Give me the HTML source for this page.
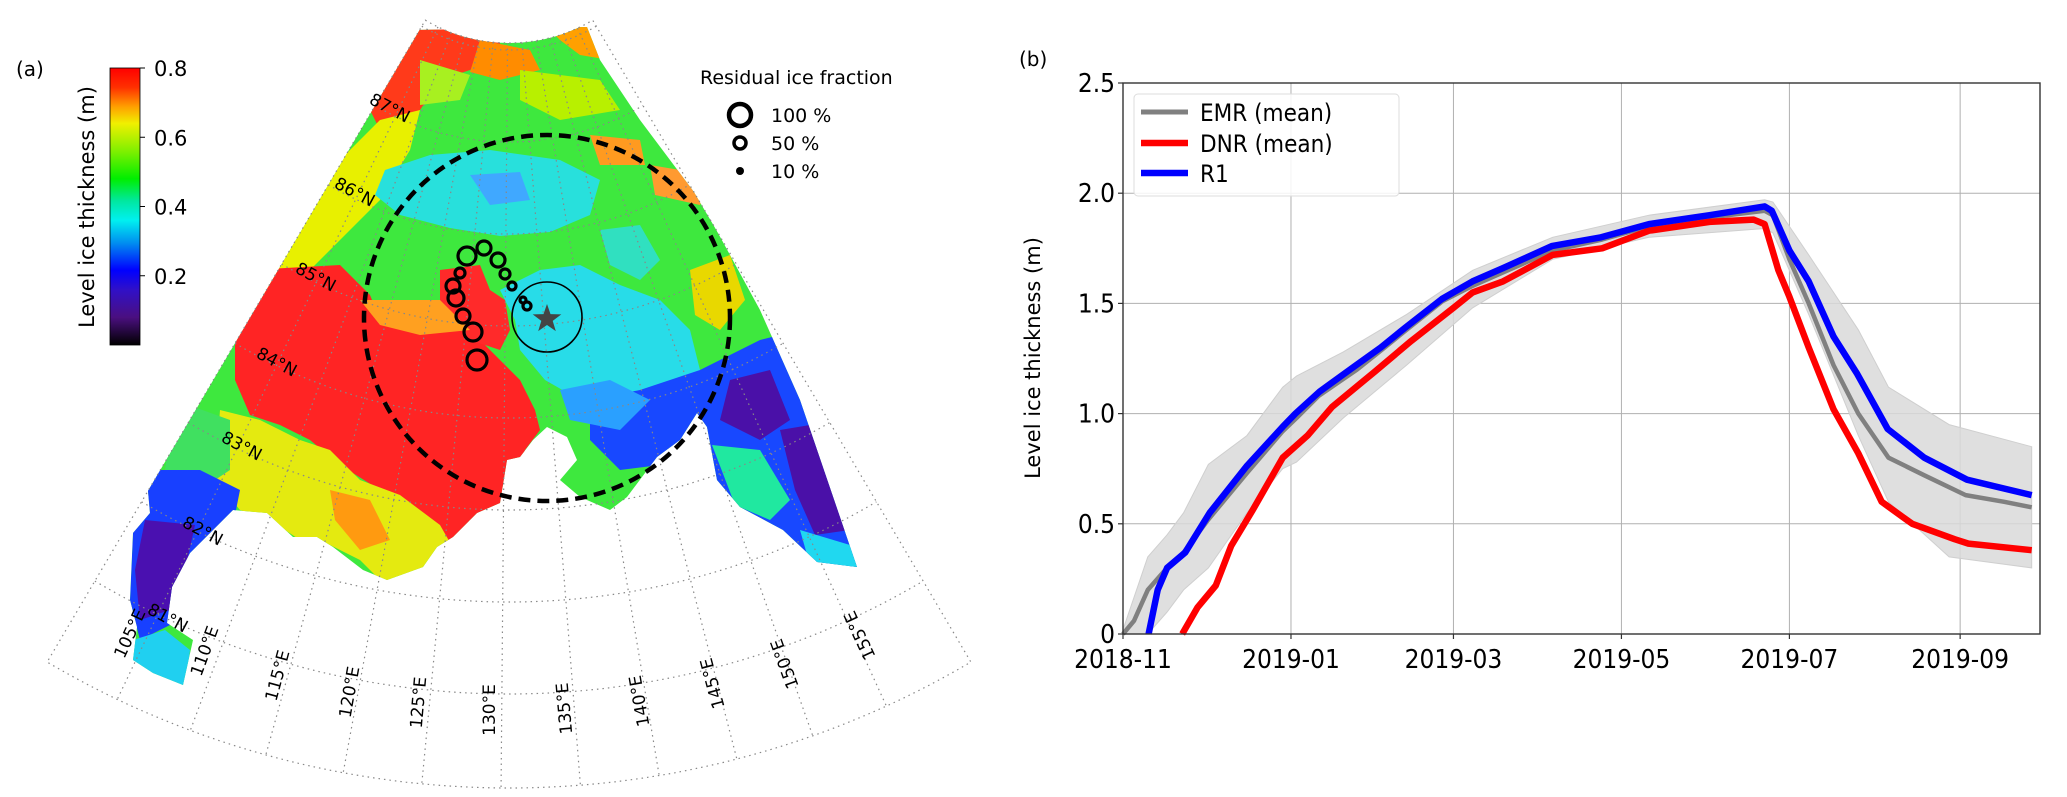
<!DOCTYPE html>
<html><head><meta charset="utf-8">
<style>
html,body{margin:0;padding:0;background:#fff;}
body{width:2067px;height:797px;overflow:hidden;font-family:"DejaVu Sans","Liberation Sans",sans-serif;}
svg{position:absolute;left:0;top:0;}
.cond{font-family:"DejaVu Sans Condensed","DejaVu Sans","Liberation Sans",sans-serif;font-stretch:condensed;}
</style></head>
<body>
<svg id="fig" width="2067" height="797" viewBox="0 0 2067 797" xmlns="http://www.w3.org/2000/svg">
<defs>
  <linearGradient id="cbar" x1="0" y1="1" x2="0" y2="0">
    <stop offset="0" stop-color="#000000"/>
    <stop offset="0.1" stop-color="#4a0f80"/>
    <stop offset="0.2" stop-color="#3010c8"/>
    <stop offset="0.27" stop-color="#0000ff"/>
    <stop offset="0.37" stop-color="#0090f0"/>
    <stop offset="0.45" stop-color="#00f0f0"/>
    <stop offset="0.52" stop-color="#00e8a0"/>
    <stop offset="0.6" stop-color="#00ee00"/>
    <stop offset="0.7" stop-color="#80f000"/>
    <stop offset="0.8" stop-color="#f0f000"/>
    <stop offset="0.86" stop-color="#ffa000"/>
    <stop offset="0.93" stop-color="#ff3000"/>
    <stop offset="1" stop-color="#ff0000"/>
  </linearGradient>
  <clipPath id="fanClip"><path id="fanClipPath" d=""/></clipPath>
  <clipPath id="dataClip"><polygon points="413,30 587,27 600,60 640,120 700,200 760,310 800,400 857,567 817,562 783,530 740,507 717,480 707,427 697,413 680,440 657,457 627,497 610,510 580,497 560,480 577,460 567,437 547,427 533,440 520,457 507,460 500,503 477,513 453,537 437,547 423,567 387,580 363,570 333,547 317,537 293,537 267,513 233,510 210,533 190,553 172,587 167,623 193,640 183,685 153,673 133,660 137,627 130,600 133,533 150,513 147,480 170,423 190,393 300,200"/></clipPath>
</defs>

<!-- ===== Panel (a) ===== -->
<text x="16" y="76" font-size="20" fill="#000">(a)</text>
<g>
  <rect x="110" y="68" width="30" height="277" fill="url(#cbar)" stroke="#000" stroke-width="0.8"/>
  <g id="cbticks"></g>
  <text transform="translate(94,207) rotate(-90)" text-anchor="middle" font-size="21" fill="#000">Level ice thickness (m)</text>
</g>

<g id="map">
  <g clip-path="url(#fanClip)">
    <g clip-path="url(#dataClip)">
      <rect x="100" y="0" width="900" height="720" fill="#3ee83e"/>
      <polygon points="400,20 500,20 500,50 470,70 440,80 420,110 380,130 360,90" fill="#ff3a1a"/>
      <polygon points="480,40 530,50 540,70 500,80 470,72" fill="#ff8c00"/>
      <polygon points="540,20 610,20 610,60 580,55 560,40" fill="#ffa000"/>
      <polygon points="520,70 600,80 620,110 560,120 520,100" fill="#b8f000"/>
      <polygon points="420,60 470,75 460,100 420,105" fill="#a8f020"/>
      <polygon points="380,120 420,110 410,150 380,200 340,240 300,280 270,300 250,280 300,200" fill="#e8f000"/>
      <!-- cyan areas -->
      <polygon points="385,170 430,155 490,150 560,160 600,180 590,215 550,232 500,236 450,228 400,215 375,195" fill="#28e0dc"/>
      <polygon points="500,290 540,270 580,265 620,285 660,300 690,330 700,370 670,400 620,410 580,400 545,380 520,350 515,320" fill="#28dce8"/>
      <polygon points="600,230 640,225 660,260 640,280 610,265" fill="#30e0c0"/>
      <polygon points="470,175 520,172 530,200 490,205" fill="#40a8ff"/>
      <polygon points="590,135 640,140 645,165 600,165" fill="#ff9a20"/>
      <polygon points="650,165 710,175 700,205 655,195" fill="#ff9a30"/>
      <polygon points="690,270 730,255 745,300 720,330 695,315" fill="#e8d800"/>
      <!-- red big region -->
      <polygon points="250,270 340,265 370,295 380,320 430,330 460,322 480,340 500,360 520,380 535,410 540,430 525,450 515,480 500,510 470,520 450,545 420,520 380,490 340,465 310,440 280,425 250,415 235,380 235,330" fill="#ff2424"/>
      <polygon points="440,270 480,265 490,290 505,300 510,330 500,350 470,340 450,320 440,300" fill="#ff2a2a"/>
      <polygon points="360,300 440,300 470,330 420,335 380,325" fill="#ffa020"/>
      <!-- yellow lower left -->
      <polygon points="220,410 260,420 300,440 330,450 360,480 400,495 440,525 460,560 420,590 385,585 360,560 330,545 300,540 270,520 240,510 215,480" fill="#e4ea10"/>
      <polygon points="330,490 370,500 390,540 360,550 335,520" fill="#ff9a10"/>
      <polygon points="175,400 230,420 230,470 200,490 165,470" fill="#40e060"/>
      <!-- blue left tail -->
      <polygon points="150,470 200,470 240,490 235,515 210,535 190,555 175,590 170,625 140,640 130,600 133,533 147,480" fill="#1840ff"/>
      <polygon points="145,520 195,525 185,570 170,610 140,620 135,570" fill="#4a10b0"/>
      <polygon points="133,640 165,630 190,650 185,690 150,680 133,665" fill="#20d0f0"/>
      <!-- blue right -->
      <polygon points="590,400 640,390 700,370 760,340 800,330 830,370 870,470 900,580 810,575 770,530 730,505 700,470 660,465 620,470 590,440" fill="#1848ff"/>
      <polygon points="560,390 610,380 650,400 620,430 570,420" fill="#2aa0ff"/>
      <polygon points="730,380 770,370 790,420 760,440 720,420" fill="#4a10a8"/>
      <polygon points="780,430 810,425 835,470 850,530 815,535 795,490" fill="#4a10a8"/>
      <polygon points="712,445 760,450 790,500 770,520 735,505" fill="#20e8a0"/>
      <polygon points="800,530 850,545 857,567 810,565" fill="#20d8f0"/>
    </g>
    <g id="grid" fill="none" stroke="#888" stroke-width="1.2" stroke-dasharray="1.5,4"></g>
  </g>
  <path id="fanOutline" d="" fill="none" stroke="#888" stroke-width="1.2" stroke-dasharray="1.5,4"/>
  <g id="latlabels" font-size="17" fill="#000"></g>
  <g id="lonlabels" font-size="17" fill="#000"></g>
  <circle cx="547" cy="318" r="183" fill="none" stroke="#000" stroke-width="4.5" stroke-dasharray="12,7"/>
  <circle cx="547" cy="317" r="35" fill="none" stroke="#000" stroke-width="1.6"/>
  <g id="track" fill="none" stroke="#000" stroke-width="3.2"></g>
  <polygon id="star" fill="#444"/>
</g>

<g>
  <text x="700" y="84" font-size="19" fill="#000">Residual ice fraction</text>
  <circle cx="740" cy="115" r="11" fill="none" stroke="#000" stroke-width="4.5"/>
  <text x="771" y="122" font-size="19">100 %</text>
  <circle cx="740" cy="143" r="6" fill="none" stroke="#000" stroke-width="3.5"/>
  <text x="771" y="150" font-size="19">50 %</text>
  <circle cx="740" cy="171" r="4" fill="#000"/>
  <text x="771" y="178" font-size="19">10 %</text>
</g>

<!-- ===== Panel (b) ===== -->
<text x="1019" y="66" font-size="20" fill="#000">(b)</text>
<g id="chart">
  <g id="gridlines"></g>
  <path id="band" fill="#d9d9d9" fill-opacity="0.85" stroke="#cfcfcf" stroke-width="1"/>
  <g id="lines" fill="none" stroke-linejoin="round" stroke-linecap="butt"></g>
  <rect x="1123" y="83" width="917" height="551" fill="none" stroke="#333" stroke-width="1.4"/>
  <g id="ticks" class="cond"></g>
  <text transform="translate(1040,358) rotate(-90)" text-anchor="middle" font-size="21" fill="#000">Level ice thickness (m)</text>
  <g class="cond">
    <rect x="1134" y="94" width="265" height="102" rx="4" fill="#fff" fill-opacity="0.85" stroke="#ddd" stroke-width="1"/>
    <line x1="1141" y1="112" x2="1188" y2="112" stroke="#808080" stroke-width="5"/>
    <text x="1200" y="121" font-size="24">EMR (mean)</text>
    <line x1="1141" y1="143" x2="1188" y2="143" stroke="#ff0000" stroke-width="6.5"/>
    <text x="1200" y="152" font-size="24">DNR (mean)</text>
    <line x1="1141" y1="173" x2="1188" y2="173" stroke="#0000ff" stroke-width="6.5"/>
    <text x="1200" y="182" font-size="24">R1</text>
  </g>
</g>
</svg>
<script>
// ---- chart data (days since 2018-11-01, thickness in m) ----
const emrDays = [0,4,9,16,22,31,45,58,63,71,85,94,103,116,127,138,156,174,191,213,233,236,242,249,258,267,278,291,306,320,330];
const emrVals = [0,0.06,0.2,0.3,0.37,0.52,0.73,0.92,0.98,1.08,1.2,1.29,1.38,1.51,1.58,1.64,1.74,1.79,1.85,1.89,1.92,1.9,1.7,1.5,1.22,1.0,0.8,0.72,0.63,0.6,0.575];
const dnrDays = [21.5,27,33.7,39.3,47,58,67,75.9,91.4,104.7,120,127,138,156,174,191,213,229,233,238,242,249,258,267,275.5,286.6,302,307,330];
const dnrVals = [0,0.12,0.22,0.4,0.56,0.8,0.9,1.03,1.19,1.33,1.48,1.55,1.6,1.72,1.75,1.83,1.87,1.88,1.86,1.65,1.53,1.3,1.02,0.82,0.6,0.5,0.43,0.41,0.38];
const r1Days = [9.3,12.6,16,22.6,31.5,44.8,58,62.6,71.4,84.7,93.6,102.5,115.8,126.9,138,155.7,173.6,191,213,233,235.6,242,249,258,266.6,277.7,291,306.5,319.9,330];
const r1Vals = [0,0.2,0.3,0.37,0.55,0.76,0.94,1.0,1.1,1.22,1.3,1.39,1.52,1.6,1.66,1.76,1.8,1.86,1.9,1.94,1.92,1.74,1.6,1.35,1.18,0.93,0.8,0.7,0.66,0.63];
const bandDays = [0,9,16,22,31,45,58,63,80,103,127,156,191,233,236,249,267,278,300,330];
const bandUpper = [0.02,0.35,0.45,0.55,0.77,0.9,1.12,1.17,1.28,1.45,1.65,1.8,1.9,1.97,1.96,1.72,1.38,1.12,0.95,0.85];
const bandLower = [0,0,0.1,0.2,0.3,0.55,0.75,0.78,0.98,1.22,1.48,1.7,1.8,1.84,1.82,1.45,0.9,0.6,0.35,0.3];
const xTickDays = [0,61,120,181,242,304];
const xTickLabels = ["2018-11","2019-01","2019-03","2019-05","2019-07","2019-09"];
const yTickVals = [0,0.5,1.0,1.5,2.0,2.5];
const yTickLabels = ["0","0.5","1.0","1.5","2.0","2.5"];
const cbTickVals = [0.2,0.4,0.6,0.8];
const cbTickLabels = ["0.2","0.4","0.6","0.8"];
const trackX = [527,523,512,505,498,484,467,460,453,456,463,473,477];
const trackY = [306,300,286,274,260,248,256,273,286,298,316,332,360];
const trackR = [4,3,4,5,7,7,9,5,7,8,7,9,10];

const NS='http://www.w3.org/2000/svg';
const X0=1123,X1=2040,Y0=634,Y1=83,DMAX=333,VMAX=2.5;
function xs(d){return X0+d/DMAX*(X1-X0);}
function ys(v){return Y0-v/VMAX*(Y0-Y1);}
function mk(tag,attrs,parent){const e=document.createElementNS(NS,tag);for(const k in attrs)e.setAttribute(k,attrs[k]);parent.appendChild(e);return e;}

const gl=document.getElementById('gridlines');
xTickDays.forEach((d,i)=>{
  const l=mk('line',{x1:xs(d),x2:xs(d),y1:Y1,y2:Y0,stroke:'#b0b0b0','stroke-width':1},gl);
  
  
});
yTickVals.forEach((v,i)=>{
  const l=mk('line',{x1:X0,x2:X1,y1:ys(v),y2:ys(v),stroke:'#b0b0b0','stroke-width':1},gl);
  
  
});
const tk=document.getElementById('ticks');
xTickDays.forEach((d,i)=>{
  const t=mk('text',{x:xs(d),y:Y0+34,'text-anchor':'middle','font-size':26,fill:'#000'},tk);
  t.textContent=xTickLabels[i];
  
  
  mk('line',{x1:xs(d),x2:xs(d),y1:Y0,y2:Y0+5,stroke:'#333','stroke-width':1.2},tk);
});
yTickVals.forEach((v,i)=>{
  const t=mk('text',{x:X0-8,y:ys(v)+9,'text-anchor':'end','font-size':26,fill:'#000'},tk);
  t.textContent=yTickLabels[i];
  
  
  mk('line',{x1:X0-5,x2:X0,y1:ys(v),y2:ys(v),stroke:'#333','stroke-width':1.2},tk);
});
let bd='M'+bandDays.map((d,i)=>xs(d).toFixed(1)+','+ys(bandUpper[i]).toFixed(1)).join(' L');
for(let i=bandDays.length-1;i>=0;i--) bd+=' L'+xs(bandDays[i]).toFixed(1)+','+ys(bandLower[i]).toFixed(1);
document.getElementById('band').setAttribute('d',bd+' Z');
const lg=document.getElementById('lines');
function line(days,vals,color,w,name){
  const p=mk('path',{d:'M'+days.map((d,i)=>xs(d).toFixed(1)+','+ys(vals[i]).toFixed(1)).join(' L'),stroke:color,'stroke-width':w},lg);
  
  
}
line(emrDays,emrVals,'#808080',4.5,'emr-mean-line');
line(dnrDays,dnrVals,'#ff0000',6.5,'dnr-mean-line');
line(r1Days,r1Vals,'#0000ff',6.5,'r1-line');

const cbt=document.getElementById('cbticks');
cbTickVals.forEach((v,i)=>{
  const y=345-v/0.8*277;
  mk('line',{x1:140,x2:145,y1:y,y2:y,stroke:'#000','stroke-width':1},cbt);
  const t=mk('text',{x:154,y:y+8,'font-size':21,fill:'#000'},cbt);
  t.textContent=cbTickLabels[i];
  
  
});

const PX=509,PY=-122;
function rOf(lat){return 92*(90-lat)-12;}
function pt(r,lon){const a=(lon-130.5)*Math.PI/180;return [PX+r*Math.sin(a),PY+r*Math.cos(a)];}
const LON0=100,LON1=161,RT=165,RB=910;
function arc(r,l0,l1){let s='';for(let l=l0;l<=l1+1e-6;l+=1){const p=pt(r,l);s+=(s?' L':'M')+p[0].toFixed(1)+','+p[1].toFixed(1);}return s;}
let fan=arc(RT,LON0,LON1);
{let s='';for(let l=LON1;l>=LON0;l-=1){const p=pt(RB,l);s+=' L'+p[0].toFixed(1)+','+p[1].toFixed(1);}fan+=s+' Z';}
document.getElementById('fanClipPath').setAttribute('d',fan);
document.getElementById('fanOutline').setAttribute('d',fan);
const grid=document.getElementById('grid');
[81,82,83,84,85,86,87,88].forEach(lat=>{mk('path',{d:arc(rOf(lat),LON0,LON1)},grid);});
for(let lon=105;lon<=155;lon+=5){const a=pt(RT,lon),b=pt(RB,lon);mk('line',{x1:a[0],y1:a[1],x2:b[0],y2:b[1]},grid);}
const latl=document.getElementById('latlabels');
[[87,387,113],[86,352,197],[85,313,282],[84,274,367],[83,239,451],[82,200,536],[81,165,623]].forEach(a=>{
  const t=mk('text',{transform:`translate(${a[1]},${a[2]}) rotate(28)`,'text-anchor':'middle'},latl);
  t.textContent=a[0]+'°N';
  
  
});
const lonl=document.getElementById('lonlabels');
[[105,135,636],[110,210,653],[115,283,677],[120,355,693],[125,424,703],[130,495,710],[135,570,708],[140,645,700],[145,718,682],[150,790,662],[155,865,633]].forEach(a=>{
  const t=mk('text',{transform:`translate(${a[1]},${a[2]}) rotate(${-90-(a[0]-130)*1.0})`,'text-anchor':'middle'},lonl);
  t.textContent=a[0]+'°E';
  
  
});
const trk=document.getElementById('track');
trackX.forEach((x,i)=>{
  const c=mk('circle',{cx:x,cy:trackY[i],r:trackR[i]},trk);
  
  
});
{let s=[];for(let i=0;i<10;i++){const r=i%2?6:15;const a=-Math.PI/2+i*Math.PI/5;s.push((547+r*Math.cos(a)).toFixed(1)+','+(319+r*Math.sin(a)).toFixed(1));}
document.getElementById('star').setAttribute('points',s.join(' '));}
</script>
</body></html>
